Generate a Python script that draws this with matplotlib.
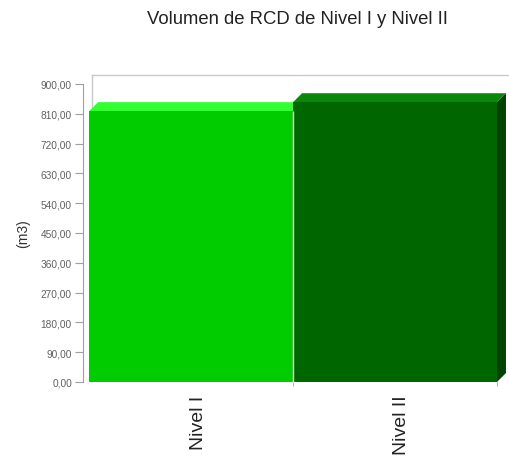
import matplotlib
matplotlib.use("Agg")
import matplotlib.pyplot as plt
from matplotlib.patches import Polygon
from matplotlib.transforms import IdentityTransform, ScaledTranslation

plt.rcParams['font.family'] = ['Liberation Sans', 'DejaVu Sans']

categories = ["Nivel I", "Nivel II"]
volumes = [818.0, 845.0]
front_colors = ["#00cc00", "#006600"]
top_colors = ["#33ff33", "#0a880a"]
side_colors = ["#009900", "#004400"]
yticks = [0, 90, 180, 270, 360, 450, 540, 630, 720, 810, 900]

W, H = 509, 460
fig = plt.figure(figsize=(W / 100, H / 100), dpi=100)
ax = fig.add_axes([83 / W, 77 / H, 414 / W, 298 / H])
ax.set_xlim(-0.53, 1.5)
ax.set_ylim(0, 900)

depth = 9  # px of 3D offset
grid_col = "#c8c8c8"

# back wall frame (top and left lines)
p0 = ax.transData.transform((-0.53, 0))
p1 = ax.transData.transform((1.5, 900))
ax.add_line(plt.Line2D([p0[0] + depth, W + 20], [p1[1] + depth, p1[1] + depth],
                       transform=IdentityTransform(), color=grid_col, lw=1,
                       clip_on=False, zorder=1))
ax.add_line(plt.Line2D([p0[0] + depth, p0[0] + depth], [p0[1] + depth, p1[1] + depth],
                       transform=IdentityTransform(), color=grid_col, lw=1,
                       clip_on=False, zorder=1))

width = 1.0
xs = list(range(len(categories)))
for i, (x, v) in enumerate(zip(xs, volumes)):
    x0, y0 = ax.transData.transform((x - width / 2, 0))
    x1, y1 = ax.transData.transform((x + width / 2, v))
    z = 3 + 2 * i
    top = Polygon([(x0, y1), (x0 + depth, y1 + depth), (x1 + depth, y1 + depth), (x1, y1)],
                  closed=True, transform=IdentityTransform(), facecolor=top_colors[i],
                  edgecolor="none", zorder=z, clip_on=False)
    side = Polygon([(x1, y0), (x1 + depth, y0 + depth), (x1 + depth, y1 + depth), (x1, y1)],
                   closed=True, transform=IdentityTransform(), facecolor=side_colors[i],
                   edgecolor="none", zorder=z, clip_on=False)
    ax.add_patch(top)
    ax.add_patch(side)
    ax.bar(x, v, width=width, color=front_colors[i], edgecolor="none", zorder=z + 1)

# thin light separator between the two bars
ax.vlines(0.5, 0, min(volumes), color="#d8f5d8", lw=1.0, zorder=10)

ax.patch.set_visible(False)
for s in ["top", "right", "bottom"]:
    ax.spines[s].set_visible(False)
ax.spines["left"].set_color("#a0a0a0")
ax.spines["left"].set_linewidth(0.8)

ax.set_yticks(yticks)
ax.set_yticklabels([f"{t:.2f}".replace(".", ",") for t in yticks])
ax.tick_params(axis="y", length=6, width=0.8, color="#a0a0a0", labelsize=7.3,
               labelcolor="#606060", pad=2)

ax.set_xticks(xs)
ax.set_xticklabels(categories, rotation=90, fontsize=14, color="#222222")
ax.tick_params(axis="x", length=0, pad=9)
shift = ScaledTranslation(5 / 72, 0, fig.dpi_scale_trans)
for lab in ax.get_xticklabels():
    lab.set_transform(lab.get_transform() + shift)
ax.set_xticks([0.5, 1.5], minor=True)
ax.tick_params(axis="x", which="minor", length=3, color="#a0a0a0")

ax.set_ylabel("(m3)", fontsize=10, color="#333333", labelpad=8)
fig.text(297 / W, 1 - 20 / H, "Volumen de RCD de Nivel I y Nivel II",
         ha="center", va="center", fontsize=13.3, color="#222222")

fig.savefig("out.png", dpi=100)
